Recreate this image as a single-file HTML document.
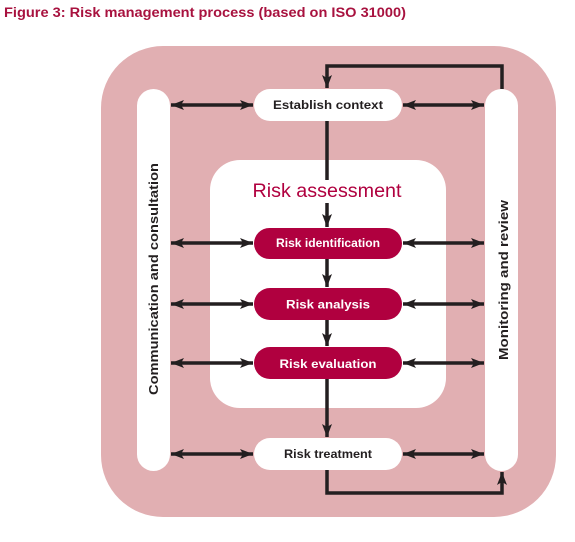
<!DOCTYPE html>
<html><head><meta charset="utf-8"><style>
body{margin:0;background:#fff;width:575px;height:537px;overflow:hidden}
text{font-family:"Liberation Sans",Arial,sans-serif;font-weight:bold}
</style></head><body>
<svg width="575" height="537" viewBox="0 0 575 537" xmlns="http://www.w3.org/2000/svg">
<defs>
<marker id="a" viewBox="0 0 13 10" refX="13" refY="5" markerWidth="13" markerHeight="10" markerUnits="userSpaceOnUse" orient="auto-start-reverse">
<path d="M0,0 L13,5 L0,10 L3,5 Z" fill="#231f20"/></marker>
</defs>
<text x="4" y="17" font-size="13.5" fill="#a8123f" textLength="402" lengthAdjust="spacingAndGlyphs">Figure 3: Risk management process (based on ISO 31000)</text>
<rect x="101" y="46" width="455" height="471" rx="62" fill="#e1afb2"/>
<rect x="137" y="89" width="33" height="382" rx="16.5" fill="#fff"/>
<rect x="485" y="89" width="33" height="382" rx="16.5" fill="#fff"/>
<rect x="210" y="160" width="236" height="248" rx="30" fill="#fff"/>
<g fill="none" stroke="#231f20" stroke-width="3.5">
<path d="M502,89 V66 H327 V88" marker-end="url(#a)"/>
<path d="M327,470 V493 H502 V472" marker-end="url(#a)"/>
<path d="M327,121 V180"/>
<path d="M327,203 V227" marker-end="url(#a)"/>
<path d="M327,259 V287" marker-end="url(#a)"/>
<path d="M327,320 V346" marker-end="url(#a)"/>
<path d="M327,379 V437" marker-end="url(#a)"/>
<g marker-start="url(#a)" marker-end="url(#a)">
<path d="M171,105 H253"/><path d="M403,105 H484"/>
<path d="M171,243 H253"/><path d="M403,243 H484"/>
<path d="M171,304 H253"/><path d="M403,304 H484"/>
<path d="M171,363 H253"/><path d="M403,363 H484"/>
<path d="M171,454 H253"/><path d="M403,454 H484"/>
</g></g>
<rect x="254" y="89" width="148" height="32" rx="16" fill="#fff"/>
<rect x="254" y="438" width="148" height="32" rx="16" fill="#fff"/>
<rect x="254" y="228" width="148" height="31" rx="15.5" fill="#b0003f"/>
<rect x="254" y="288" width="148" height="32" rx="16" fill="#b0003f"/>
<rect x="254" y="347" width="148" height="32" rx="16" fill="#b0003f"/>
<text x="328" y="109" font-size="12" fill="#231f20" text-anchor="middle" textLength="110" lengthAdjust="spacingAndGlyphs">Establish context</text>
<text x="328" y="458" font-size="12" fill="#231f20" text-anchor="middle" textLength="88" lengthAdjust="spacingAndGlyphs">Risk treatment</text>
<text x="328" y="247" font-size="11.5" fill="#fff" text-anchor="middle" textLength="104" lengthAdjust="spacingAndGlyphs">Risk identification</text>
<text x="328" y="308.5" font-size="12" fill="#fff" text-anchor="middle" textLength="84" lengthAdjust="spacingAndGlyphs">Risk analysis</text>
<text x="328" y="368" font-size="12" fill="#fff" text-anchor="middle" textLength="97" lengthAdjust="spacingAndGlyphs">Risk evaluation</text>
<text x="327" y="197" font-size="19" style="font-weight:normal" fill="#b0003f" text-anchor="middle" textLength="149" lengthAdjust="spacingAndGlyphs">Risk assessment</text>
<text transform="translate(158,279) rotate(-90)" font-size="13" fill="#231f20" text-anchor="middle" textLength="232" lengthAdjust="spacingAndGlyphs">Communication and consultation</text>
<text transform="translate(508,280) rotate(-90)" font-size="13" fill="#231f20" text-anchor="middle" textLength="160" lengthAdjust="spacingAndGlyphs">Monitoring and review</text>
</svg>
</body></html>
